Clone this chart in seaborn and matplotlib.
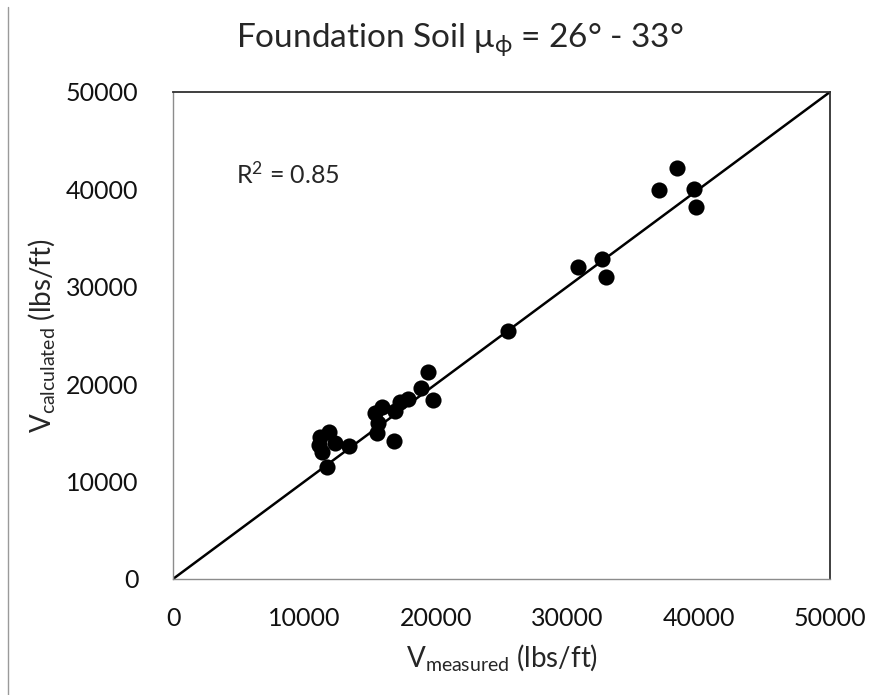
import numpy as np
import pandas as pd
import matplotlib
matplotlib.use("Agg")
import matplotlib.pyplot as plt
from matplotlib.lines import Line2D
import seaborn as sns

# measured vs calculated shear (lbs/ft)
v_measured = [11100, 11300, 11200, 11900, 11700, 12300, 13400, 15500, 15600,
              15400, 15900, 16800, 16900, 17300, 17900, 18900, 19400, 19800,
              25500, 30800, 32600, 32900, 37000, 38300, 39600, 39750]
v_calculated = [13750, 13060, 14600, 15100, 11450, 14000, 13600, 14950, 16000,
                17000, 17600, 14200, 17200, 18200, 18500, 19600, 21200, 18400,
                25400, 32000, 32800, 31000, 39900, 42200, 40000, 38200]

# 1:1 line
line_x = [0, 50000]
line_y = [0, 50000]

ticks = [0, 10000, 20000, 30000, 40000, 50000]
r2_text = "R$^2$ = 0.85"

sns.set_style("white")
plt.rcParams['font.family'] = ['Lato', 'DejaVu Sans']
plt.rcParams['mathtext.fontset'] = 'custom'
plt.rcParams['mathtext.rm'] = 'Lato'
plt.rcParams['mathtext.it'] = 'Lato'

df = pd.DataFrame({"measured": v_measured, "calculated": v_calculated})

fig = plt.figure(figsize=(8.74, 6.95), dpi=100)
ax = fig.add_axes([0.198, 0.167, 0.752, 0.701])

sns.lineplot(x=line_x, y=line_y, color="black", linewidth=1.8, ax=ax)
sns.scatterplot(data=df, x="measured", y="calculated", color="black",
                s=135, edgecolor="black", linewidth=0, ax=ax, zorder=3)

ax.set_xlim(0, 50000)
ax.set_ylim(0, 50000)
ax.set_xticks(ticks)
ax.set_yticks(ticks)
ax.tick_params(axis="both", which="both", direction="out", length=8,
               width=1, color="#8c8c8c", labelsize=18, labelcolor="#111111")
ax.tick_params(axis="y", pad=17)
ax.tick_params(axis="x", pad=12)

for side in ["left", "bottom"]:
    ax.spines[side].set_color("#8c8c8c")
    ax.spines[side].set_linewidth(1)
for side in ["top", "right"]:
    ax.spines[side].set_color("#303030")
    ax.spines[side].set_linewidth(1.3)

ax.set_xlabel(r"$\mathregular{V_{measured}}$ (lbs/ft)", fontsize=20, labelpad=9)
ax.set_ylabel(r"$\mathregular{V_{calculated}}$ (lbs/ft)", fontsize=20, labelpad=6)

ax.text(4800, 41500, r2_text, fontsize=18, va="center", ha="left")

fig.text(0.526, 0.932, r"Foundation Soil $\mathregular{\mu_{\phi}}$ = 26° - 33°",
         fontsize=24, ha="center", va="baseline")

# page border on the left
fig.add_artist(Line2D([0.009, 0.009], [0.0, 0.99], color="#9a9a9a", linewidth=1))

fig.savefig("out.png", dpi=100)
